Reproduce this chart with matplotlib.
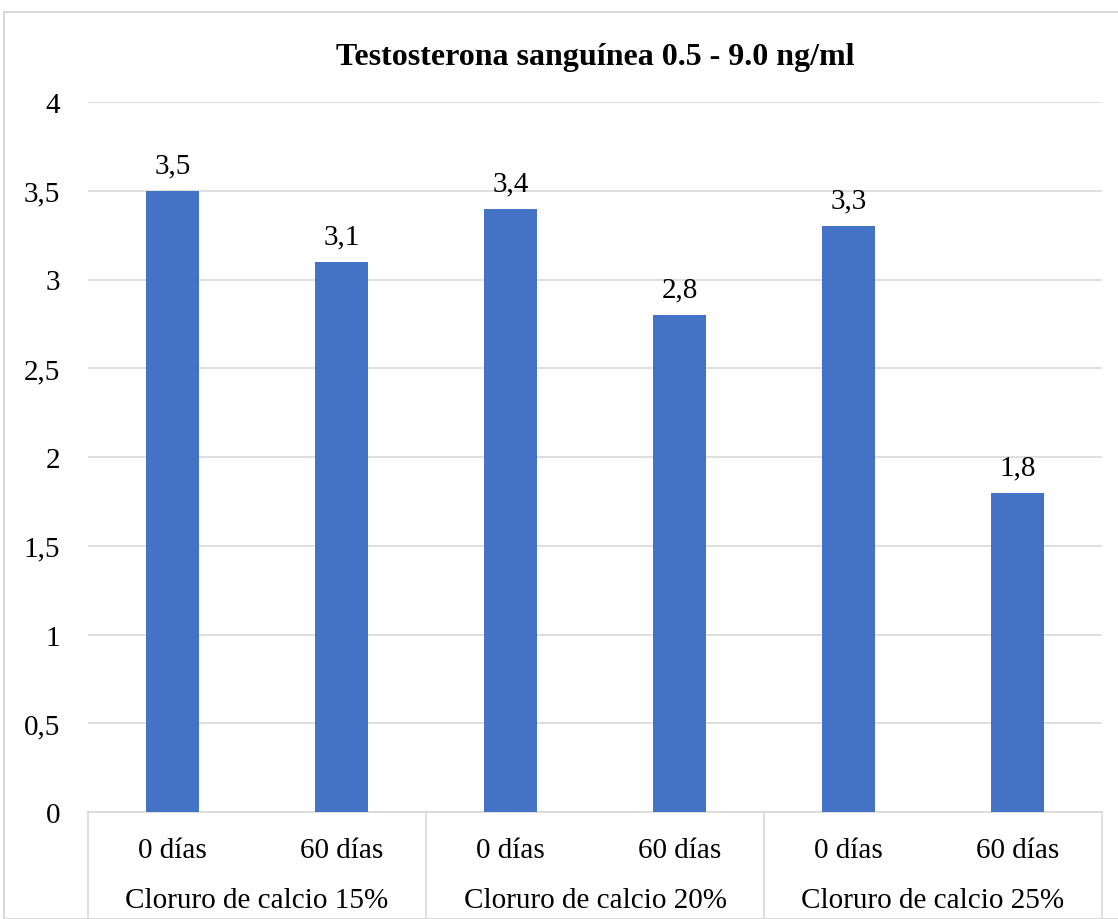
import matplotlib.pyplot as plt
from matplotlib.patches import Rectangle
import matplotlib.transforms as mtransforms

plt.rcParams['font.family'] = ['Liberation Serif', 'DejaVu Serif']

dias = ['0 días', '60 días', '0 días', '60 días', '0 días', '60 días']
grupos = ['Cloruro de calcio 15%', 'Cloruro de calcio 20%', 'Cloruro de calcio 25%']
valores = [3.5, 3.1, 3.4, 2.8, 3.3, 1.8]
titulo = 'Testosterona sanguínea 0.5 - 9.0 ng/ml'

W, H = 1118, 920
fs = 21
fig = plt.figure(figsize=(W / 100, H / 100), dpi=100)

# marco del gráfico
fig.patches.append(Rectangle((4 / W, 0), (W - 4) / W + 0.01, (H - 13) / H,
                             transform=fig.transFigure, fill=False,
                             edgecolor='#d9d9d9', linewidth=1.5))

ax = fig.add_axes([88 / W, (H - 813) / H, 1014 / W, 710 / H])
x = range(len(valores))
ax.bar(x, valores, width=0.31, color='#4472C4', zorder=3)
for i, v in zip(x, valores):
    ax.annotate(str(v).replace('.', ','), (i, v), xytext=(0, 9),
                textcoords='offset points', ha='center', va='bottom', fontsize=fs)

ax.set_xlim(-0.5, len(valores) - 0.5)
ax.set_ylim(0, 4)
yt = [0, 0.5, 1, 1.5, 2, 2.5, 3, 3.5, 4]
ax.set_yticks(yt)
ax.set_yticklabels([f'{t:g}'.replace('.', ',') for t in yt], fontsize=fs)
ax.tick_params(axis='y', length=0, pad=20)
ax.grid(axis='y', color='#d9d9d9', linewidth=1.2, zorder=0)
for s in ['top', 'right', 'left']:
    ax.spines[s].set_visible(False)
ax.spines['bottom'].set_color('#d9d9d9')
ax.spines['bottom'].set_linewidth(1.2)

ax.set_xticks(list(x))
ax.set_xticklabels(dias, fontsize=fs)
ax.tick_params(axis='x', length=0, pad=18)

# etiquetas de grupo y separadores
trans = mtransforms.blended_transform_factory(ax.transData, ax.transAxes)
for g, nombre in enumerate(grupos):
    ax.text(2 * g + 0.5, -88 / 710, nombre, transform=trans, ha='center',
            va='center', fontsize=fs)
for xs in [-0.5, 1.5, 3.5, 5.5]:
    ax.plot([xs, xs], [0, -0.2], transform=trans, color='#d9d9d9',
            linewidth=1.2, clip_on=False)

fig.text((88 + 1014 / 2) / W, (H - 57) / H, titulo, ha='center', va='center',
         fontsize=23, fontweight='bold')

fig.savefig('out.png', dpi=100)
